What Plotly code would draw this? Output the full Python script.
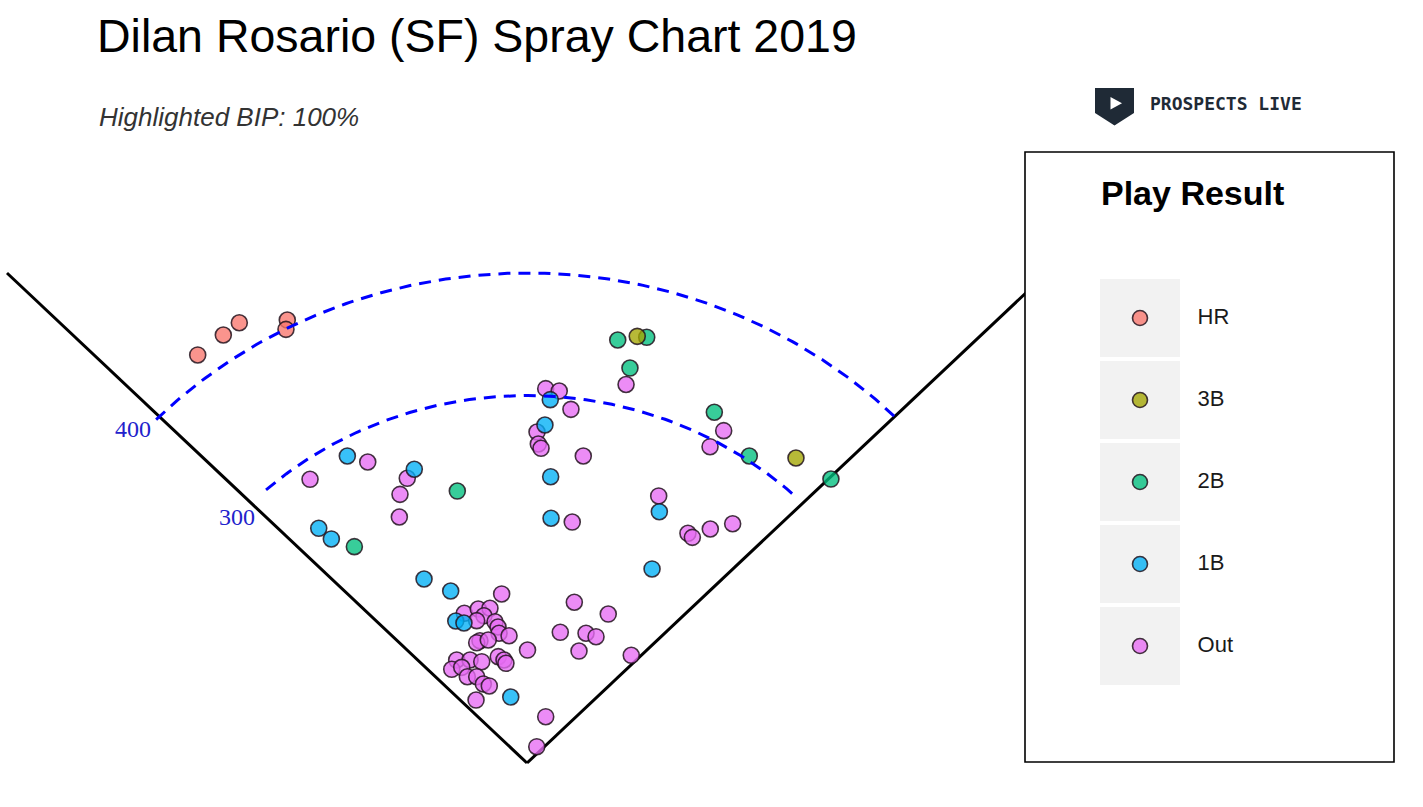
import numpy as np
import plotly.graph_objects as go

W, H = 1423, 807

# ---------------- data (spray coordinates in feet; home plate at 0,0) ----------------
categories = ["HR", "3B", "2B", "1B", "Out"]

hr_x = [-253.3, -233.6, -221.3, -184.4, -185.4]
hr_y = [333.1, 349.4, 359.4, 361.6, 354.0]

triple_x = [84.8, 206.9]
triple_y = [348.3, 249.0]

double_x = [69.8, 92.1, 79.2, 144.1, 171.0, 233.8, -53.6, -132.8]
double_y = [345.3, 347.5, 322.4, 286.3, 250.6, 231.8, 222.0, 176.6]

single_x = [17.9, 13.8, -86.7, -138.2, 18.2, 18.5, -160.2, -150.5, 101.8, 96.2,
            -79.2, -58.7, -54.8, -48.5, -12.5]
single_y = [296.6, 275.9, 239.8, 250.6, 233.7, 199.8, 191.6, 182.9, 205.1, 158.4,
            150.2, 140.4, 115.9, 114.3, 53.9]

out_x = [-166.9, -122.5, -92.1, -97.7, -98.2, 14.4, 24.8, 33.8, 7.7, 8.7,
         10.8, 43.3, 34.8, 76.2, 151.3, 140.8, 101.3, 123.8, 127.2, 141.0,
         158.2, -19.5, -48.2, -37.5, -28.5, -33.1, -38.7, -24.6, -22.3, -21.5,
         -13.8, -36.2, -38.7, -29.8, 0.4, -22.1, -17.7, -16.2, -54.1, -57.9,
         -43.8, -34.8, -50.2, -45.9, -38.7, -33.6, -29.0, -39.2, 36.4, 62.5,
         25.6, 45.4, 53.1, 40.0, 80.2, 14.4, 7.5]
out_y = [231.6, 245.7, 232.4, 219.3, 200.8, 305.6, 303.7, 288.7, 270.2, 260.4,
         256.9, 250.6, 196.7, 309.0, 271.3, 258.2, 218.0, 187.5, 184.2, 191.0,
         195.3, 138.0, 122.2, 125.7, 126.3, 120.2, 116.2, 115.3, 111.0, 105.9,
         103.9, 99.8, 98.2, 100.4, 92.2, 86.8, 84.1, 81.4, 84.1, 76.5,
         84.1, 82.7, 78.1, 70.4, 70.4, 64.5, 62.9, 51.4, 131.2, 121.6,
         106.7, 105.9, 103.1, 91.4, 87.9, 37.8, 13.3]

arc_distances = [300, 400]
arc_labels = ["300", "400"]
foul_line_length = 400  # feet along each axis

# ---------------- styling ----------------
fill = {
    "HR": "rgba(248,118,109,0.78)",
    "3B": "rgba(163,165,0,0.78)",
    "2B": "rgba(0,191,125,0.78)",
    "1B": "rgba(0,176,246,0.78)",
    "Out": "rgba(231,107,243,0.78)",
}
edge = "rgba(35,20,30,0.85)"

series = {
    "Out": (out_x, out_y),
    "1B": (single_x, single_y),
    "2B": (double_x, double_y),
    "3B": (triple_x, triple_y),
    "HR": (hr_x, hr_y),
}

def px(x):
    return x / W

def py(y):
    return 1 - y / H

fig = go.Figure()

# foul lines
for sgn in (-1, 1):
    fig.add_trace(go.Scatter(
        x=[0, sgn * foul_line_length], y=[0, foul_line_length],
        mode="lines", line=dict(color="black", width=3),
        hoverinfo="skip", showlegend=False))

# batted balls
for cat in ["Out", "1B", "2B", "3B", "HR"]:
    xs, ys = series[cat]
    fig.add_trace(go.Scatter(
        x=xs, y=ys, mode="markers", name=cat, showlegend=False,
        marker=dict(size=16, color=fill[cat], line=dict(color=edge, width=1.6))))

# distance arcs
arc_spans = {300: (-42, 43.5), 400: (-45.5, 45.3)}
for d in arc_distances:
    a0, a1 = arc_spans[d]
    th = np.radians(np.linspace(a0, a1, 200))
    fig.add_trace(go.Scatter(
        x=d * np.sin(th), y=d * np.cos(th), mode="lines",
        line=dict(color="#0000ff", width=3, dash="12px,8px"),
        hoverinfo="skip", showlegend=False))

# distance labels
label_r_pad = {300: 0, 400: 8}
for d, lab in zip(arc_distances, arc_labels):
    ang = np.radians(48)
    r = d + label_r_pad[d]
    fig.add_annotation(x=-r * np.sin(ang), y=r * np.cos(ang),
                       text=lab, showarrow=False, xref="x", yref="y",
                       font=dict(family="Liberation Serif, Times New Roman", size=24,
                                 color="#2222cc"))

# ---------------- legend panel (own subplot) ----------------
# legend x axis: 80 px per unit, key boxes span -0.5..0.5 (px 1100..1180)
fig.add_trace(go.Bar(
    y=categories, x=[1] * len(categories), base=-0.5, orientation="h",
    width=0.95, marker=dict(color="#f2f2f2", line=dict(width=0)),
    xaxis="x2", yaxis="y2", hoverinfo="skip", showlegend=False))
fig.add_trace(go.Scatter(
    y=categories, x=[0] * len(categories), mode="markers",
    marker=dict(size=15, color=[fill[c] for c in categories],
                line=dict(color=edge, width=1.6)),
    xaxis="x2", yaxis="y2", hoverinfo="skip", showlegend=False))
fig.add_trace(go.Scatter(
    y=categories, x=[0.72] * len(categories), mode="text", text=categories,
    textposition="middle right",
    textfont=dict(family="Liberation Sans, Arial", size=22, color="#1a1a1a"),
    xaxis="x2", yaxis="y2", hoverinfo="skip", showlegend=False))

# legend frame
fig.add_shape(type="rect", xref="paper", yref="paper",
              x0=px(1025), x1=px(1394), y0=py(762), y1=py(152),
              line=dict(color="black", width=1.6), fillcolor="white", layer="below")
fig.add_annotation(text="<b>Play Result</b>", x=px(1099), y=py(193),
                   xref="paper", yref="paper", xanchor="left", yanchor="middle",
                   showarrow=False,
                   font=dict(family="Liberation Sans, Arial", size=34, color="black"))

# subtitle
fig.add_annotation(text="<i>Highlighted BIP: 100%</i>", x=px(97), y=py(117),
                   xref="paper", yref="paper", xanchor="left", yanchor="middle",
                   showarrow=False,
                   font=dict(family="Liberation Sans, Arial", size=26, color="#333333"))

# logo
shield = "M {a},{b} L {c},{b} L {c},{d} L {e},{f} L {a},{d} Z".format(
    a=px(1095), b=py(88), c=px(1134), d=py(113), e=px(1114.5), f=py(125.5))
fig.add_shape(type="path", path=shield, xref="paper", yref="paper",
              fillcolor="#1f2a36", line=dict(width=0), layer="above")
tri = "M {a},{b} L {a},{c} L {d},{e} Z".format(
    a=px(1110.5), b=py(97), c=py(109.5), d=px(1122), e=py(103.3))
fig.add_shape(type="path", path=tri, xref="paper", yref="paper",
              fillcolor="white", line=dict(width=0), layer="above")
fig.add_annotation(text="<b>PROSPECTS LIVE</b>", x=px(1148), y=py(103),
                   xref="paper", yref="paper", xanchor="left", yanchor="middle",
                   showarrow=False,
                   font=dict(family="DejaVu Sans Mono", size=18, color="#1f2a36"))

# ---------------- layout ----------------
sx, sy = 1.3, 1.225          # px per foot
home_px, home_py = 527, 763  # home plate position in pixels
panel_right = 1025

fig.update_layout(
    width=W, height=H, autosize=False,
    margin=dict(l=0, r=0, t=0, b=0),
    paper_bgcolor="white", plot_bgcolor="rgba(0,0,0,0)",
    title=dict(text="Dilan Rosario (SF) Spray Chart 2019",
               x=px(97), xanchor="left", y=py(36), yanchor="middle",
               xref="paper", yref="container",
               font=dict(family="Liberation Sans, Arial", size=46.5, color="black")),
    xaxis=dict(domain=[0, panel_right / W],
               range=[(0 - home_px) / sx, (panel_right - home_px) / sx],
               visible=False, fixedrange=True),
    yaxis=dict(domain=[0, 1],
               range=[(home_py - H) / sy, home_py / sy],
               visible=False, fixedrange=True),
    xaxis2=dict(domain=[1100 / W, 1340 / W], range=[-0.5, 2.5],
                anchor="y2", visible=False, fixedrange=True),
    yaxis2=dict(domain=[py(687), py(277)], type="category",
                categoryorder="array", categoryarray=categories,
                range=[len(categories) - 0.5, -0.5],
                anchor="x2", visible=False, fixedrange=True),
    bargap=0,
    showlegend=False,
)

fig.write_html("out.html")
